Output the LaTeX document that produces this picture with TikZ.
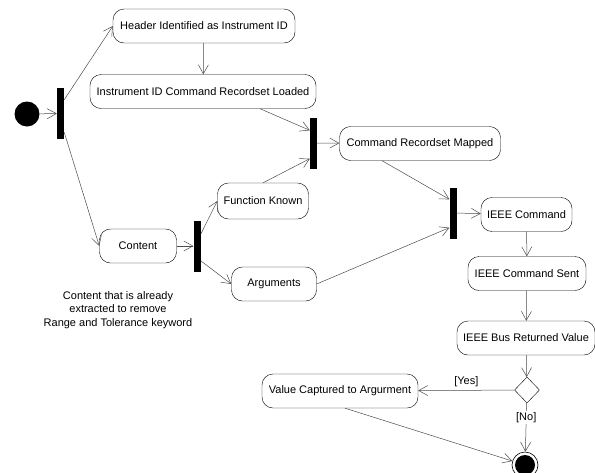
\documentclass[tikz,border=0pt]{standalone}
\usepackage{fontspec}
\setmainfont{Liberation Sans}
\usetikzlibrary{arrows.meta,shapes.geometric,positioning}

\begin{document}
\begin{tikzpicture}[
            x=1pt, y=-1pt,
            font=\fontsize{11}{13.5}\selectfont,
            activity/.style={draw, rounded corners=11pt, align=center, minimum height=34pt, inner sep=2pt},
            bar/.style={fill=black, inner sep=0pt, minimum width=7pt, minimum height=51pt},
            choice/.style={draw, diamond, inner sep=0pt, minimum width=25pt, minimum height=26pt},
            flow/.style={-{Straight Barb[length=9pt,width=10pt]}, black!70, line width=0.5pt}
        ]
            \useasboundingbox (0,0) rectangle (595,472);

            \node[circle, fill=black, minimum size=25pt, inner sep=0pt] (start) at (27,114) {};
            \node[bar] (fork1) at (60.5,113.5) {};
            \node[activity, minimum width=182pt] (header) at (204,26) {Header Identified as Instrument ID};
            \node[activity, minimum width=226pt] (loaded) at (203,91.5) {Instrument ID Command Recordset Loaded};
            \node[bar] (join1) at (313.5,143) {};
            \node[activity, minimum width=161pt] (mapped) at (420,143.5) {Command Recordset Mapped};
            \node[activity, minimum width=77pt] (content) at (138,246) {Content};
            \node[bar] (fork2) at (197,246) {};
            \node[activity, minimum width=91pt, minimum height=36pt] (fknown) at (263,201) {Function Known};
            \node[activity, minimum width=85pt] (args) at (274,284) {Arguments};
            \node[align=center] (note) at (118,310) {Content that is already\\extracted to remove\\Range and Tolerance keyword};
            \node[bar] (join2) at (453,213) {};
            \node[activity, minimum width=91pt] (ieee) at (526.5,214.5) {IEEE Command};
            \node[activity, minimum width=118pt] (sent) at (527,273.5) {IEEE Command Sent};
            \node[activity, minimum width=138pt] (busval) at (526,338) {IEEE Bus Returned Value};
            \node[choice] (decide) at (527,390) {};
            \node[activity, minimum width=156pt] (captured) at (340,391) {Value Captured to Argurment};
            \node[circle, draw, minimum size=26pt, inner sep=0pt, line width=0.6pt] (stop) at (525,465) {};
            \node[circle, fill=black, minimum size=20pt, inner sep=0pt] (stopdot) at (stop) {};

            \draw[flow] (start) -- (fork1);
            \draw[flow] ([yshift=-12pt]fork1.north east) -- (header.west);
            \draw[flow] ([yshift=7pt]fork1.south east) -- (content.west);
            \draw[flow] (header) -- (loaded);
            \draw[flow] ([xshift=57pt]loaded.south) -- ([yshift=-13pt]join1.north west);
            \draw[flow] (fknown.north) -- ([yshift=10pt]join1.south west);
            \draw[flow] (join1) -- (mapped);
            \draw[flow] (content) -- (fork2);
            \draw[flow] ([yshift=-14pt]fork2.north east) -- (fknown.west);
            \draw[flow] ([yshift=11pt]fork2.south east) -- (args.west);
            \draw[flow] ([xshift=-38pt]mapped.south) -- ([yshift=-12pt]join2.north west);
            \draw[flow] (args.east) -- ([yshift=11pt]join2.south west);
            \draw[flow] (join2) -- (ieee);
            \draw[flow] (ieee) -- (sent);
            \draw[flow] (sent) -- (busval);
            \draw[flow] (busval) -- (decide);
            \draw[flow] (decide) -- node[above, text=black] {[Yes]} (captured);
            \draw[flow] (decide) -- node[pos=0.3, fill=white, text=black, inner sep=1pt] {[No]} (stop);
            \draw[flow] ([xshift=5pt]captured.south) -- (stop);
        \end{tikzpicture}
\end{document}
